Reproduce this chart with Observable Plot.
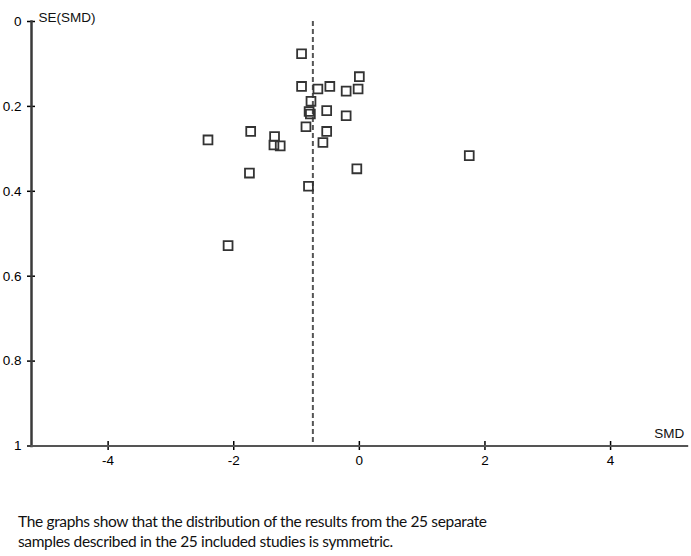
<!DOCTYPE html>
<html>
<head>
<meta charset="utf-8">
<script src="https://cdn.jsdelivr.net/npm/d3@7"></script>
<script src="https://cdn.jsdelivr.net/npm/@observablehq/plot@0.6"></script>
<style>
  html, body { margin: 0; padding: 0; background: #fff; }
  #chart svg { display: block; }
  #caption {
    font-family: Lato, "Open Sans", sans-serif;
    font-size: 15.5px;
    letter-spacing: -0.35px;
    line-height: 19.5px;
    color: #111;
    margin: 32px 0 0 18px;
  }
</style>
</head>
<body>
<div id="chart"></div>
<div id="caption">The graphs show that the distribution of the results from the 25 separate<br>samples described in the 25 included studies is symmetric.</div>
<script>
// Study effect sizes (SMD) and their standard errors (SE)
const smd = [-0.92, 0.00, -0.92, -0.66, -0.47, -0.21, -0.02, -0.77, -0.80, -0.52, -0.21, -0.85, -0.52, -1.73, -2.41, -1.35, -1.36, -1.26, -0.58, -1.75, -0.04, -0.81, 1.75, -2.09, -0.78];
const se  = [0.076, 0.130, 0.153, 0.159, 0.153, 0.164, 0.159, 0.188, 0.212, 0.210, 0.222, 0.248, 0.259, 0.259, 0.279, 0.271, 0.291, 0.293, 0.285, 0.357, 0.347, 0.388, 0.316, 0.528, 0.218];
const pooled = [-0.74];
const xTicks = [-4, -2, 0, 2, 4];
const xTickLabels = ["-4", "-2", "0", "2", "4"];
const yTicks = [0, 0.2, 0.4, 0.6, 0.8, 1];
const yTickLabels = ["0", "0.2", "0.4", "0.6", "0.8", "1"];
const xDomain = [-5.22, 5.22];
const yDomain = [0, 1];
const xLabel = "SMD";
const yLabel = "SE(SMD)";

const points = smd.map((x, i) => ({x, y: se[i]}));

const chart = Plot.plot({
  width: 691,
  height: 480,
  marginLeft: 31,
  marginRight: 4.3,
  marginTop: 21,
  marginBottom: 34.5,
  style: {fontFamily: "'Liberation Sans', Arial, sans-serif", fontSize: "13.5px"},
  x: {domain: xDomain},
  y: {domain: yDomain, reverse: true},
  marks: [
    Plot.ruleX(pooled, {y1: yDomain[0], y2: yDomain[1], stroke: "#555", strokeWidth: 2, strokeDasharray: "5,3"}),
    Plot.dot(points, {x: "x", y: "y", symbol: "square", r: 5, stroke: "#333", strokeWidth: 1.8, fill: "none"}),
    Plot.axisX({ticks: xTicks, tickFormat: (d, i) => xTickLabels[i], tickSize: 9, tickPadding: 4.5, dy: -4.5, strokeWidth: 1.5, label: null}),
    Plot.axisY({ticks: yTicks, tickFormat: (d, i) => yTickLabels[i], tickSize: 8, tickPadding: 6, dx: 4, strokeWidth: 1.5, label: null}),
    Plot.frame({anchor: "left", stroke: "#3a3a3a", strokeWidth: 2.5}),
    Plot.frame({anchor: "bottom", stroke: "#555", strokeWidth: 2}),
    Plot.text([yLabel], {frameAnchor: "top-left", dx: 7, dy: -9, textAnchor: "start", fontSize: 13.5, fill: "#111"}),
    Plot.text([xLabel], {frameAnchor: "bottom-right", dx: -3, dy: -8.5, textAnchor: "end", fontSize: 13.5, fill: "#111"})
  ]
});
document.getElementById("chart").appendChild(chart);
</script>
</body>
</html>
